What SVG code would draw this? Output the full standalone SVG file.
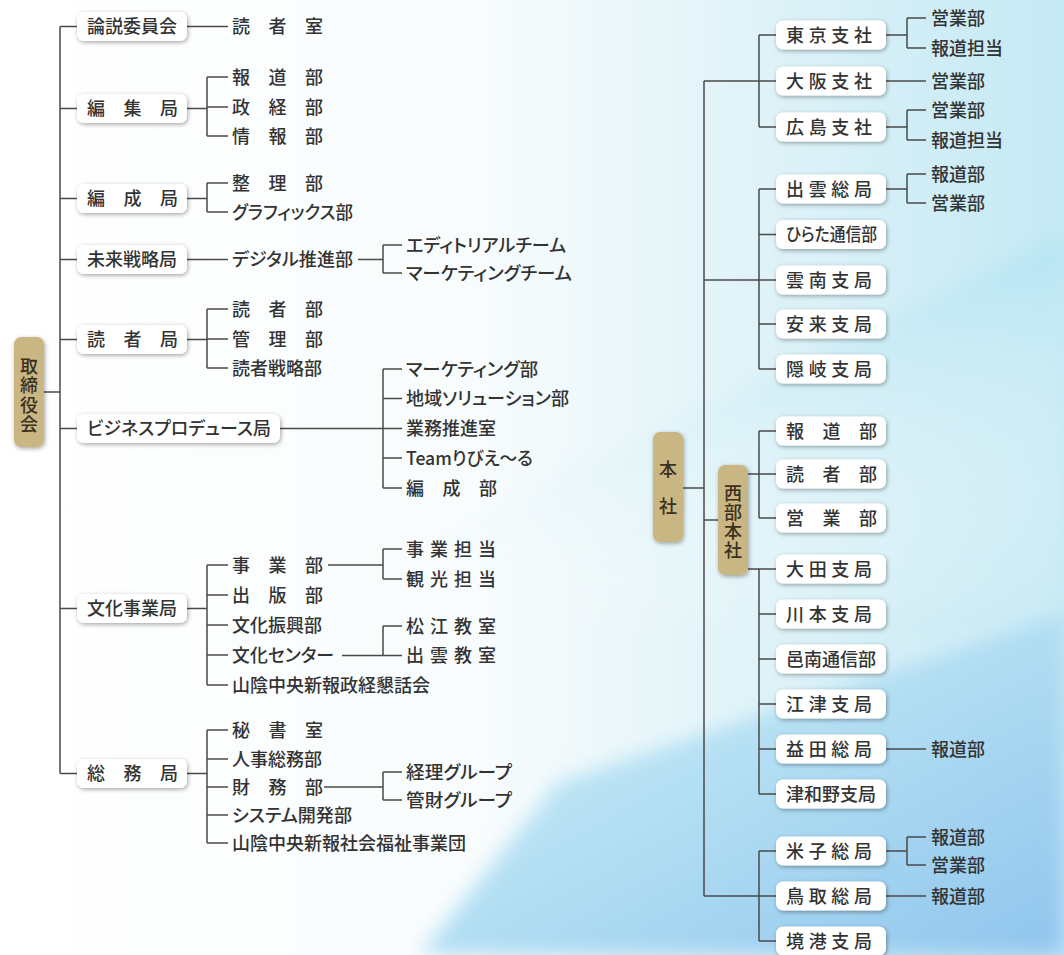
<svg xmlns="http://www.w3.org/2000/svg" width="1064" height="955" viewBox="0 0 1064 955">
<style>
.box{fill:#fff;filter:url(#sh)}
.tan{fill:#c9b682;filter:url(#sh)}
.t{font-family:"Noto Sans CJK JP","Noto Sans",sans-serif;font-size:18px;fill:#333;font-weight:500}
.tv{font-family:"Noto Sans CJK JP","Noto Sans",sans-serif;font-size:18px;fill:#3a3020;font-weight:500;text-anchor:middle;writing-mode:vertical-rl}
.k{font-feature-settings:"palt"}
.c{fill:none;stroke:#4a4a4a;stroke-width:1.5}
</style>
<defs>
<filter id="sh" x="-30%" y="-30%" width="160%" height="160%">
<feDropShadow dx="1" dy="1.5" stdDeviation="2" flood-color="#000" flood-opacity="0.35"/>
</filter>
<filter id="blur" x="-10%" y="-10%" width="120%" height="120%"><feGaussianBlur stdDeviation="10"/></filter>
<linearGradient id="bg0" x1="0" y1="0" x2="1" y2="0">
<stop offset="0" stop-color="#ffffff"/>
<stop offset="0.45" stop-color="#f8fcfd"/>
<stop offset="0.7" stop-color="#e0f3f8"/>
<stop offset="1" stop-color="#c4e9f4"/>
</linearGradient>
<linearGradient id="bgA" x1="0" y1="0" x2="0" y2="1">
<stop offset="0" stop-color="#b3e4f2" stop-opacity="1"/>
<stop offset="1" stop-color="#ffffff" stop-opacity="0"/>
</linearGradient>
<linearGradient id="bgB" x1="0" y1="0" x2="1" y2="1">
<stop offset="0" stop-color="#d2f1f8"/>
<stop offset="0.5" stop-color="#b2def3"/>
<stop offset="1" stop-color="#8fc4ed"/>
</linearGradient>
</defs>
<rect width="1064" height="955" fill="url(#bg0)"/>
<polygon points="430,540 1064,235 1064,600 620,640" fill="url(#bgA)" filter="url(#blur)"/>
<polygon points="560,780 1064,610 1064,955 420,955" fill="url(#bgB)" filter="url(#blur)"/>
<path d="M560,775 L1064,605" stroke="#ffffff" stroke-width="4" opacity="0.6" filter="url(#blur)"/>

<g id="connectors">
<path class="c" d="M44,392H60M60,26.5V773.5M60,26.5H77M60,108.5H77M60,198.5H77M60,259.5H77M60,339.5H77M60,428.5H77M60,608.5H77M60,773.5H77"/>
<path class="c" d="M187,26.5H228"/>
<path class="c" d="M187,108.5H207M207,77V136M207,77H228M207,107H228M207,136H228"/>
<path class="c" d="M187,198.5H207M207,183V212M207,183H228M207,212H228"/>
<path class="c" d="M187,259.5H228M358,259.5H383M383,245V273M383,245H402M383,273H402"/>
<path class="c" d="M187,339.5H207M207,309V368M207,309H228M207,339H228M207,368H228"/>
<path class="c" d="M280,428.5H402M383,369V488M383,369H402M383,398.5H402M383,458H402M383,488H402"/>
<path class="c" d="M187,608.5H207M207,565V685M207,565H228M207,595H228M207,625H228M207,655H228M207,685H228"/>
<path class="c" d="M328,565H383M383,549V579M383,549H402M383,579H402"/>
<path class="c" d="M342,655.5H402M383,626V655.5M383,626H402"/>
<path class="c" d="M187,773.5H207M207,730V843M207,730H228M207,759H228M207,787H228M207,815H228M207,843H228"/>
<path class="c" d="M324,787H383M383,772V800M383,772H402M383,800H402"/>
<path class="c" d="M683,488H704M704,81V896M704,81H776M704,280H776M704,896H776M704,520H718"/>
<path class="c" d="M759,35V127M759,35H776M759,127H776"/>
<path class="c" d="M759,189V369M759,189H776M759,234.5H776M759,324H776M759,369H776"/>
<path class="c" d="M748,474H776M759,431V518M759,431H776M759,518H776"/>
<path class="c" d="M748,569H776M759,569V794M759,614H776M759,659H776M759,704H776M759,749H776M759,794H776"/>
<path class="c" d="M759,851V941M759,851H776M759,941H776"/>
<path class="c" d="M886,35H907M907,18V48M907,18H926M907,48H926"/>
<path class="c" d="M886,81H926"/>
<path class="c" d="M886,127H907M907,110V140M907,110H926M907,140H926"/>
<path class="c" d="M886,189H907M907,174V203M907,174H926M907,203H926"/>
<path class="c" d="M886,749H926"/>
<path class="c" d="M886,851H907M907,837V865M907,837H926M907,865H926"/>
<path class="c" d="M886,896H926"/>
</g>

<g id="torishimariyakukai"><rect class="tan" x="14" y="337" width="30" height="110" rx="7"/>
<text class="tv" x="29" y="396" letter-spacing="1.5">取締役会</text></g>

<g id="ronsetsu"><rect class="box" x="77" y="12" width="110" height="29" rx="7"/><text class="t" x="87" y="33">論説委員会</text></g>
<g id="dokushashitsu"><text class="t" x="232 268.5 305" y="33">読者室</text></g>

<g id="henshu"><rect class="box" x="77" y="94" width="110" height="29" rx="7"/><text class="t" x="87 123.5 160" y="115">編集局</text></g>
<g id="hodobu"><text class="t" x="232 268.5 305" y="83.5">報道部</text></g>
<g id="seikeibu"><text class="t" x="232 268.5 305" y="113.5">政経部</text></g>
<g id="johobu"><text class="t" x="232 268.5 305" y="142.5">情報部</text></g>

<g id="hensei"><rect class="box" x="77" y="184" width="110" height="29" rx="7"/><text class="t" x="87 123.5 160" y="205">編成局</text></g>
<g id="seiribu"><text class="t" x="232 268.5 305" y="189.5">整理部</text></g>
<g id="graphics"><text class="t k" x="232" y="218.5" textLength="121" lengthAdjust="spacingAndGlyphs">グラフィックス部</text></g>

<g id="mirai"><rect class="box" x="77" y="245" width="110" height="29" rx="7"/><text class="t" x="87" y="266">未来戦略局</text></g>
<g id="digital"><text class="t k" x="232" y="266" textLength="121" lengthAdjust="spacingAndGlyphs">デジタル推進部</text></g>
<g id="editorial"><text class="t k" x="406" y="251.5" textLength="160" lengthAdjust="spacingAndGlyphs">エディトリアルチーム</text></g>
<g id="marketing-team"><text class="t k" x="406" y="279.5" textLength="166" lengthAdjust="spacingAndGlyphs">マーケティングチーム</text></g>

<g id="dokushakyoku"><rect class="box" x="77" y="325" width="110" height="29" rx="7"/><text class="t" x="87 123.5 160" y="346">読者局</text></g>
<g id="dokushabu"><text class="t" x="232 268.5 305" y="315.5">読者部</text></g>
<g id="kanribu"><text class="t" x="232 268.5 305" y="345.5">管理部</text></g>
<g id="dokushasenryaku"><text class="t" x="232" y="374.5">読者戦略部</text></g>

<g id="business"><rect class="box" x="77" y="414" width="203" height="29" rx="7"/><text class="t k" x="87" y="435" textLength="184" lengthAdjust="spacingAndGlyphs">ビジネスプロデュース局</text></g>
<g id="marketing-bu"><text class="t k" x="406" y="375.5" textLength="132" lengthAdjust="spacingAndGlyphs">マーケティング部</text></g>
<g id="chiiki"><text class="t k" x="406" y="405" textLength="163" lengthAdjust="spacingAndGlyphs">地域ソリューション部</text></g>
<g id="gyomu"><text class="t" x="406" y="435">業務推進室</text></g>
<g id="team"><text class="t k" x="406" y="464.5" textLength="127" lengthAdjust="spacingAndGlyphs">Teamりびえ〜る</text></g>
<g id="henseibu"><text class="t" x="406 442.5 479" y="494.5">編成部</text></g>

<g id="bunka"><rect class="box" x="77" y="594" width="110" height="29" rx="7"/><text class="t" x="87" y="615">文化事業局</text></g>
<g id="jigyobu"><text class="t" x="232 268.5 305" y="571.5">事業部</text></g>
<g id="jigyotanto"><text class="t" x="406 430 454 478" y="555.5">事業担当</text></g>
<g id="kankotanto"><text class="t" x="406 430 454 478" y="585.5">観光担当</text></g>
<g id="shuppanbu"><text class="t" x="232 268.5 305" y="601.5">出版部</text></g>
<g id="bunkashinko"><text class="t" x="232" y="631.5">文化振興部</text></g>
<g id="bunkacenter"><text class="t k" x="232" y="661.5" textLength="102" lengthAdjust="spacingAndGlyphs">文化センター</text></g>
<g id="matsue"><text class="t" x="406 430 454 478" y="632.5">松江教室</text></g>
<g id="izumo-kyoshitsu"><text class="t" x="406 430 454 478" y="662">出雲教室</text></g>
<g id="seikeikonwakai"><text class="t" x="232" y="691.5">山陰中央新報政経懇話会</text></g>

<g id="somu"><rect class="box" x="77" y="759" width="110" height="29" rx="7"/><text class="t" x="87 123.5 160" y="780">総務局</text></g>
<g id="hishoshitsu"><text class="t" x="232 268.5 305" y="736.5">秘書室</text></g>
<g id="jinji"><text class="t" x="232" y="765.5">人事総務部</text></g>
<g id="zaimubu"><text class="t" x="232 268.5 305" y="793.5">財務部</text></g>
<g id="keiri"><text class="t k" x="406" y="778.5" textLength="106" lengthAdjust="spacingAndGlyphs">経理グループ</text></g>
<g id="kanzai"><text class="t k" x="406" y="806.5" textLength="106" lengthAdjust="spacingAndGlyphs">管財グループ</text></g>
<g id="system"><text class="t k" x="232" y="821.5" textLength="120" lengthAdjust="spacingAndGlyphs">システム開発部</text></g>
<g id="fukushi"><text class="t" x="232" y="849.5">山陰中央新報社会福祉事業団</text></g>

<g id="honsha"><rect class="tan" x="653" y="432" width="30" height="110" rx="7"/>
<text class="tv" x="668" y="497" letter-spacing="19">本社</text></g>
<g id="seibuhonsha"><rect class="tan" x="718" y="465" width="30" height="110" rx="7"/>
<text class="tv" x="733" y="522" letter-spacing="1">西部本社</text></g>

<g id="tokyo"><rect class="box" x="776" y="20.5" width="110" height="29" rx="7"/><text class="t" x="786 808.7 831.3 854" y="41.5">東京支社</text></g>
<g id="tokyo-eigyo"><text class="t" x="931" y="24.5">営業部</text></g>
<g id="tokyo-hodo"><text class="t" x="931" y="54.5">報道担当</text></g>
<g id="osaka"><rect class="box" x="776" y="66.5" width="110" height="29" rx="7"/><text class="t" x="786 808.7 831.3 854" y="87.5">大阪支社</text></g>
<g id="osaka-eigyo"><text class="t" x="931" y="87.5">営業部</text></g>
<g id="hiroshima"><rect class="box" x="776" y="112.5" width="110" height="29" rx="7"/><text class="t" x="786 808.7 831.3 854" y="133.5">広島支社</text></g>
<g id="hiroshima-eigyo"><text class="t" x="931" y="116.5">営業部</text></g>
<g id="hiroshima-hodo"><text class="t" x="931" y="146.5">報道担当</text></g>

<g id="izumo"><rect class="box" x="776" y="174.5" width="110" height="29" rx="7"/><text class="t" x="786 808.7 831.3 854" y="195.5">出雲総局</text></g>
<g id="izumo-hodo"><text class="t" x="931" y="180.5">報道部</text></g>
<g id="izumo-eigyo"><text class="t" x="931" y="209.5">営業部</text></g>
<g id="hirata"><rect class="box" x="776" y="220" width="110" height="29" rx="7"/><text class="t k" x="786" y="241" textLength="91" lengthAdjust="spacingAndGlyphs">ひらた通信部</text></g>
<g id="unnan"><rect class="box" x="776" y="265.5" width="110" height="29" rx="7"/><text class="t" x="786 808.7 831.3 854" y="286.5">雲南支局</text></g>
<g id="yasugi"><rect class="box" x="776" y="309.5" width="110" height="29" rx="7"/><text class="t" x="786 808.7 831.3 854" y="330.5">安来支局</text></g>
<g id="oki"><rect class="box" x="776" y="354.5" width="110" height="29" rx="7"/><text class="t" x="786 808.7 831.3 854" y="375.5">隠岐支局</text></g>

<g id="seibu-hodo"><rect class="box" x="776" y="416.5" width="110" height="29" rx="7"/><text class="t" x="786 822.5 859" y="437.5">報道部</text></g>
<g id="seibu-dokusha"><rect class="box" x="776" y="459.5" width="110" height="29" rx="7"/><text class="t" x="786 822.5 859" y="480.5">読者部</text></g>
<g id="seibu-eigyo"><rect class="box" x="776" y="503.5" width="110" height="29" rx="7"/><text class="t" x="786 822.5 859" y="524.5">営業部</text></g>

<g id="ota"><rect class="box" x="776" y="554.5" width="110" height="29" rx="7"/><text class="t" x="786 808.7 831.3 854" y="575.5">大田支局</text></g>
<g id="kawamoto"><rect class="box" x="776" y="599.5" width="110" height="29" rx="7"/><text class="t" x="786 808.7 831.3 854" y="620.5">川本支局</text></g>
<g id="onan"><rect class="box" x="776" y="644.5" width="110" height="29" rx="7"/><text class="t" x="786" y="665.5">邑南通信部</text></g>
<g id="gotsu"><rect class="box" x="776" y="689.5" width="110" height="29" rx="7"/><text class="t" x="786 808.7 831.3 854" y="710.5">江津支局</text></g>
<g id="masuda"><rect class="box" x="776" y="734.5" width="110" height="29" rx="7"/><text class="t" x="786 808.7 831.3 854" y="755.5">益田総局</text></g>
<g id="masuda-hodo"><text class="t" x="931" y="755.5">報道部</text></g>
<g id="tsuwano"><rect class="box" x="776" y="779.5" width="110" height="29" rx="7"/><text class="t" x="786" y="800.5">津和野支局</text></g>

<g id="yonago"><rect class="box" x="776" y="836.5" width="110" height="29" rx="7"/><text class="t" x="786 808.7 831.3 854" y="857.5">米子総局</text></g>
<g id="yonago-hodo"><text class="t" x="931" y="843.5">報道部</text></g>
<g id="yonago-eigyo"><text class="t" x="931" y="871.5">営業部</text></g>
<g id="tottori"><rect class="box" x="776" y="881.5" width="110" height="29" rx="7"/><text class="t" x="786 808.7 831.3 854" y="902.5">鳥取総局</text></g>
<g id="tottori-hodo"><text class="t" x="931" y="902.5">報道部</text></g>
<g id="sakaiminato"><rect class="box" x="776" y="926.5" width="110" height="29" rx="7"/><text class="t" x="786 808.7 831.3 854" y="947.5">境港支局</text></g>
</svg>
